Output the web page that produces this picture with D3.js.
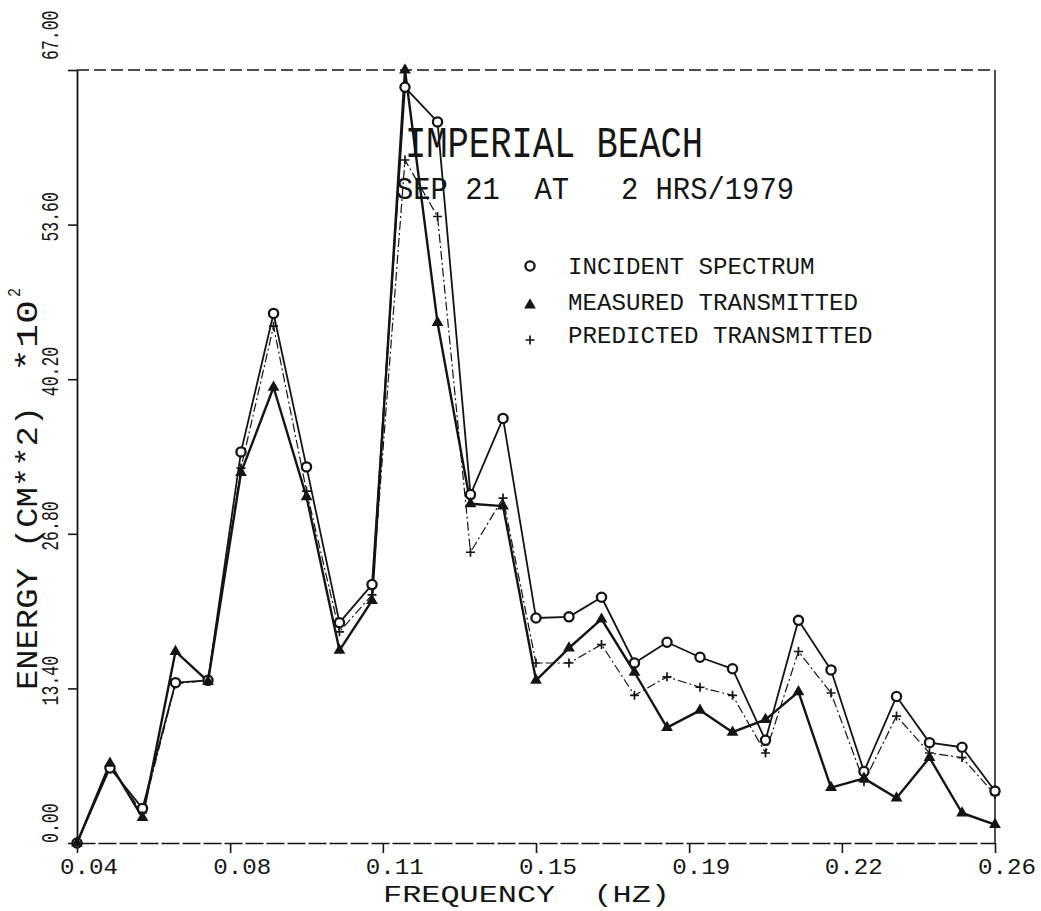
<!DOCTYPE html>
<html>
<head>
<meta charset="utf-8">
<script src="https://cdn.jsdelivr.net/npm/d3@7"></script>
<style>
  body { margin: 0; background: #fff; }
  svg { display: block; }
  text { font-family: "Liberation Mono", "DejaVu Sans Mono", monospace; fill: #151515; white-space: pre; }
</style>
</head>
<body>
<svg id="spectrumPlot" width="1041" height="911"></svg>
<script>
// frequency bins (HZ)
const freq_values = [
    0.0400, 0.0479, 0.0557, 0.0636, 0.0714, 0.0793, 0.0871, 0.0950, 0.1029, 0.1107,
    0.1186, 0.1264, 0.1343, 0.1421, 0.1500, 0.1579, 0.1657, 0.1736, 0.1814, 0.1893,
    0.1971, 0.2050, 0.2129, 0.2207, 0.2286, 0.2364, 0.2443, 0.2521, 0.2600,
];
// energy (CM**2) *10^2
const incident_values = [
    0, 6.5, 3.0, 13.9, 14.1, 33.9, 45.9, 32.6, 19.1, 22.4,
    65.5, 62.5, 30.2, 36.8, 19.5, 19.6, 21.3, 15.6, 17.4, 16.1,
    15.1, 8.9, 19.3, 15.0, 6.2, 12.7, 8.7, 8.3, 4.5,
];
const measured_values = [
    0, 6.9, 2.2, 16.6, 14.0, 32.1, 39.5, 30.0, 16.7, 21.0,
    67.0, 45.1, 29.4, 29.2, 14.1, 16.9, 19.4, 14.8, 10.0, 11.5,
    9.6, 10.7, 13.1, 4.8, 5.6, 3.9, 7.4, 2.6, 1.6,
];
const predicted_values = [
    0, 6.6, 2.6, 13.8, 14.1, 32.5, 44.8, 30.5, 18.3, 21.5,
    59.2, 54.3, 25.2, 29.9, 15.6, 15.6, 17.2, 12.8, 14.4, 13.5,
    12.8, 7.8, 16.6, 13.0, 5.3, 11.0, 7.8, 7.4, 4.2,
];

const x_tick_values = [0.04, 0.0767, 0.1133, 0.15, 0.1867, 0.2233, 0.26];
const x_tick_labels = ["0.04", "0.08", "0.11", "0.15", "0.19", "0.22", "0.26"];
const y_tick_values = [0, 13.4, 26.8, 40.2, 53.6, 67];
const y_tick_labels = ["0.00", "13.40", "26.80", "40.20", "53.60", "67.00"];
const legend_labels = ["INCIDENT SPECTRUM", "MEASURED TRANSMITTED", "PREDICTED TRANSMITTED"];

const plot_svg = d3.select("#spectrumPlot");
const plot_left = 77;
const plot_right = 995;
const plot_top = 70;
const plot_bottom = 843;
const ink_color = "#141414";

const x_scale = d3.scaleLinear().domain([0.04, 0.26]).range([plot_left, plot_right]);
const y_scale = d3.scaleLinear().domain([0, 67]).range([plot_bottom, plot_top]);

function addPlotText(x, y, str, font_size, text_len, angle) {
    return plot_svg
        .append("text")
        .attr("transform", `translate(${x},${y}) rotate(${angle || 0})`)
        .attr("font-size", font_size)
        .attr("textLength", text_len)
        .attr("lengthAdjust", "spacingAndGlyphs")
        .text(str);
}

function drawFrame() {
    // bottom axis
    const x_axis = plot_svg
        .append("g")
        .attr("transform", `translate(0,${plot_bottom})`)
        .call(d3.axisBottom(x_scale).tickValues(x_tick_values).tickFormat("").tickSize(10).tickSizeOuter(0));
    x_axis.select(".domain").attr("stroke", ink_color).attr("stroke-width", 1.7).attr("stroke-dasharray", "18,3");
    x_axis.selectAll(".tick line").attr("stroke", ink_color).attr("stroke-width", 1.6);

    // left axis
    const y_axis = plot_svg
        .append("g")
        .attr("transform", `translate(${plot_left},0)`)
        .call(d3.axisLeft(y_scale).tickValues(y_tick_values).tickFormat("").tickSize(9).tickSizeOuter(0));
    y_axis.select(".domain").attr("stroke", ink_color).attr("stroke-width", 1.8);
    y_axis.selectAll(".tick line").attr("stroke", ink_color).attr("stroke-width", 1.6);

    // top and right border
    plot_svg
        .append("line")
        .attr("x1", plot_left).attr("y1", plot_top)
        .attr("x2", plot_right).attr("y2", plot_top)
        .attr("stroke", ink_color).attr("stroke-width", 1.4)
        .attr("stroke-dasharray", "12,5");
    plot_svg
        .append("line")
        .attr("x1", plot_right).attr("y1", plot_top)
        .attr("x2", plot_right).attr("y2", plot_bottom)
        .attr("stroke", ink_color).attr("stroke-width", 1.5);
}

function drawTickLabels() {
    for (let i = 0; i < x_tick_values.length; i++) {
        addPlotText(x_scale(x_tick_values[i]) - 17, 874, x_tick_labels[i], 22, 58);
    }
    for (let i = 0; i < y_tick_values.length; i++) {
        let start_y = Math.min(y_scale(y_tick_values[i]) + 17, plot_bottom);
        if (i === y_tick_values.length - 1) {
            // top label sits above the frame corner
            start_y = y_scale(y_tick_values[i]) - 10;
        }
        // narrow, tall plotter lettering: small font stretched across the line
        plot_svg
            .append("text")
            .attr("transform", `translate(58,${start_y}) rotate(-90) scale(1,1.5)`)
            .attr("font-size", 16.5)
            .text(y_tick_labels[i]);
    }
}

function drawTitles() {
    addPlotText(383, 902, "FREQUENCY  (HZ)", 24, 287);
    addPlotText(37, 690, "ENERGY (CM**2)", 30, 284, -90);
    addPlotText(37, 372, "*10", 30, 72, -90);
    addPlotText(20, 297, "2", 18, 9, -90);
    addPlotText(405, 157, "IMPERIAL BEACH", 44, 298);
    addPlotText(396, 199, "SEP 21  AT   2 HRS/1979", 31, 398);
}

function drawSeries(values, line_width, dash) {
    const line_gen = d3
        .line()
        .x((d, i) => x_scale(freq_values[i]))
        .y((d) => y_scale(d));
    plot_svg
        .append("path")
        .datum(values)
        .attr("d", line_gen)
        .attr("fill", "none")
        .attr("stroke", ink_color)
        .attr("stroke-width", line_width)
        .attr("stroke-linejoin", "round")
        .attr("stroke-dasharray", dash);
}

function drawCircleMark(x, y) {
    plot_svg
        .append("circle")
        .attr("cx", x).attr("cy", y).attr("r", 4.6)
        .attr("fill", "#fff")
        .attr("stroke", ink_color).attr("stroke-width", 2.3);
}

function drawTriangleMark(x, y) {
    plot_svg
        .append("path")
        .attr("transform", `translate(${x},${y})`)
        .attr("d", d3.symbol(d3.symbolTriangle).size(60)())
        .attr("fill", ink_color);
}

function drawPlusMark(x, y) {
    plot_svg
        .append("path")
        .attr("transform", `translate(${x},${y})`)
        .attr("d", "M-4.5,0H4.5M0,-4.5V4.5")
        .attr("stroke", ink_color)
        .attr("stroke-width", 1.7);
}

function drawMarks() {
    for (let i = 0; i < freq_values.length; i++) {
        const x = x_scale(freq_values[i]);
        drawPlusMark(x, y_scale(predicted_values[i]));
        drawCircleMark(x, y_scale(incident_values[i]));
        drawTriangleMark(x, y_scale(measured_values[i]));
    }
}

function drawLegend() {
    const row_y = [274, 310, 343];
    const mark_y = [266, 305, 340];
    drawCircleMark(530, mark_y[0]);
    drawTriangleMark(530, mark_y[1]);
    drawPlusMark(530, mark_y[2]);
    for (let i = 0; i < legend_labels.length; i++) {
        addPlotText(568, row_y[i], legend_labels[i], 24, legend_labels[i].length * 14.5);
    }
}

drawFrame();
drawSeries(predicted_values, 1.2, "9,3,2,3");
drawSeries(incident_values, 1.8, null);
drawSeries(measured_values, 2.4, null);
drawMarks();
drawTickLabels();
drawTitles();
drawLegend();
</script>
</body>
</html>
